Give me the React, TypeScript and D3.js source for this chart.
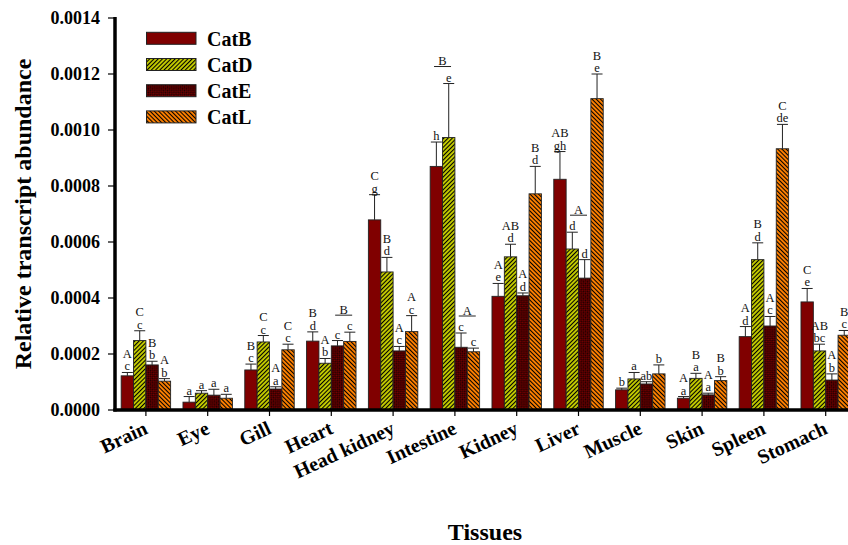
import React from 'react';
import * as d3 from 'd3';

const tissues = ['Brain', 'Eye', 'Gill', 'Heart', 'Head kidney', 'Intestine', 'Kidney', 'Liver', 'Muscle', 'Skin', 'Spleen', 'Stomach'];
const seriesNames = ['CatB', 'CatD', 'CatE', 'CatL'];

const catB = [0.000122, 0.000028, 0.000143, 0.000246, 0.000679, 0.00087, 0.000406, 0.000824, 0.000072, 0.000042, 0.000262, 0.000386];
const catBErr = [0.000012, 0.00002, 0.000021, 0.000033, 0.00009, 0.000087, 0.000046, 0.000099, 0.000006, 0.000006, 0.000036, 0.000048];
const catD = [0.000248, 0.00006, 0.000243, 0.000167, 0.000493, 0.000973, 0.000547, 0.000575, 0.000111, 0.000113, 0.000537, 0.000211];
const catDErr = [0.000035, 0.000009, 0.000023, 0.000017, 0.000052, 0.000193, 0.000045, 0.00006, 0.000023, 0.000018, 0.00006, 0.000024];
const catE = [0.000161, 0.000053, 0.000075, 0.000229, 0.000211, 0.000224, 0.000408, 0.000471, 0.000093, 0.000054, 0.0003, 0.000107];
const catEErr = [0.000013, 0.000021, 0.000008, 0.000019, 0.000016, 0.000051, 0.00001, 0.000066, 0.000008, 0.000006, 0.000034, 0.000022];
const catL = [0.000103, 0.000042, 0.000215, 0.000245, 0.00028, 0.000208, 0.000772, 0.001112, 0.000129, 0.000105, 0.000933, 0.000267];
const catLErr = [0.000009, 0.000014, 0.00002, 0.000033, 0.000057, 0.000013, 0.000098, 0.000088, 0.000032, 0.000014, 0.000087, 0.000017];

const upperB = ['A', '', 'B', 'B', 'C', '', 'A', 'AB', '', 'A', 'A', 'C'];
const lowerB = ['c', 'a', 'c', 'd', 'g', 'h', 'e', 'gh', 'b', 'a', 'd', 'e'];
const upperD = ['C', '', 'C', 'A', 'B', '', 'AB', '', '', 'B', 'B', 'AB'];
const lowerD = ['c', 'a', 'c', 'b', 'd', 'e', 'd', 'd', 'a', 'a', 'd', 'bc'];
const upperE = ['B', '', 'A', '', 'A', '', 'A', '', '', 'A', 'A', 'A'];
const lowerE = ['b', 'a', 'a', 'c', 'c', 'c', 'd', 'd', 'ab', 'a', 'c', 'b'];
const upperL = ['A', '', 'C', '', 'A', '', 'B', 'B', '', 'B', 'C', 'B'];
const lowerL = ['b', 'a', 'c', 'c', 'c', 'c', 'd', 'e', 'b', 'b', 'de', 'c'];

const sharedTissue = ['Heart', 'Intestine', 'Intestine', 'Liver'];
const sharedFrom = [2, 0, 2, 1];
const sharedTo = [3, 1, 3, 2];
const sharedLabel = ['B', 'B', 'A', 'A'];

const yTicks = [0, 0.0002, 0.0004, 0.0006, 0.0008, 0.001, 0.0012, 0.0014];

const values = [catB, catD, catE, catL];
const errors = [catBErr, catDErr, catEErr, catLErr];
const uppers = [upperB, upperD, upperE, upperL];
const lowers = [lowerB, lowerD, lowerE, lowerL];
const fills = ['#800000', 'url(#patD)', 'url(#patE)', 'url(#patL)'];

const FONT = '"Liberation Serif", "Times New Roman", serif';

export default function App() {
  const W = 848, H = 545;
  const x0 = 115, y0 = 410, yTop = 18;
  const step = 61.8;
  const x = d3.scaleBand().domain(tissues).range([x0, x0 + step * tissues.length]).paddingInner(0.2).paddingOuter(0.1);
  const xs = d3.scaleBand().domain(seriesNames).range([0, x.bandwidth()]);
  const y = d3.scaleLinear().domain([0, 0.0014]).range([y0, yTop]);
  const fmt = d3.format('.4f');
  const bw = xs.bandwidth();

  const bars: any[] = [];
  const errs: any[] = [];
  const labels: any[] = [];
  tissues.forEach((t, ti) => {
    seriesNames.forEach((s, si) => {
      const v = values[si][ti];
      const e = errors[si][ti];
      const bx = (x(t) as number) + (xs(s) as number);
      const cx = bx + bw / 2;
      const ty = y(v + e);
      bars.push(<rect key={`b${ti}-${si}`} x={bx} y={y(v)} width={bw} height={y0 - y(v)} fill={fills[si]} stroke="#222" strokeWidth={0.9} />);
      errs.push(
        <g key={`e${ti}-${si}`} stroke="#222" strokeWidth={1}>
          <line x1={cx} x2={cx} y1={y(v)} y2={ty} />
          <line x1={cx - 5.5} x2={cx + 5.5} y1={ty} y2={ty} />
        </g>
      );
      const lb = ty - 2;
      labels.push(<text key={`l${ti}-${si}`} x={cx} y={lb} textAnchor="middle" fontSize={12.5}>{lowers[si][ti]}</text>);
      if (uppers[si][ti]) {
        labels.push(<text key={`u${ti}-${si}`} x={cx} y={lb - 12.5} textAnchor="middle" fontSize={12.5}>{uppers[si][ti]}</text>);
      }
    });
  });

  sharedTissue.forEach((t, k) => {
    const ti = tissues.indexOf(t);
    const a = sharedFrom[k], b = sharedTo[k];
    const ca = (x(t) as number) + (xs(seriesNames[a]) as number) + bw / 2;
    const cb = (x(t) as number) + (xs(seriesNames[b]) as number) + bw / 2;
    const mid = (ca + cb) / 2;
    const topY = Math.min(y(values[a][ti] + errors[a][ti]), y(values[b][ti] + errors[b][ti]));
    const lineY = topY - 17;
    labels.push(
      <g key={`s${k}`}>
        <text x={mid} y={lineY - 1.5} textAnchor="middle" fontSize={12.5}>{sharedLabel[k]}</text>
        <line x1={mid - 8.5} x2={mid + 8.5} y1={lineY} y2={lineY} stroke="#222" strokeWidth={1} />
      </g>
    );
  });

  const legendTop = [32.3, 58.5, 84.7, 110.9];

  return (
    <svg width={W} height={H} style={{ position: 'absolute', left: 0, top: 0, background: '#fff' }} fontFamily={FONT}>
      <defs>
        <pattern id="patD" width={3} height={3} patternUnits="userSpaceOnUse" patternTransform="rotate(45)">
          <rect width={3} height={3} fill="#c4cc00" />
          <line x1={0.5} x2={0.5} y1={0} y2={3} stroke="#000" strokeWidth={1.1} />
        </pattern>
        <pattern id="patL" width={3} height={3} patternUnits="userSpaceOnUse" patternTransform="rotate(-45)">
          <rect width={3} height={3} fill="#ff8000" />
          <line x1={0.5} x2={0.5} y1={0} y2={3} stroke="#000" strokeWidth={1.1} />
        </pattern>
        <pattern id="patE" width={3} height={3} patternUnits="userSpaceOnUse" patternTransform="rotate(45)">
          <rect width={3} height={3} fill="#7a0000" />
          <rect width={1.5} height={1.5} fill="#1a0000" />
          <rect x={1.5} y={1.5} width={1.5} height={1.5} fill="#1a0000" />
        </pattern>
      </defs>

      {bars}
      {errs}
      <g fill="#111">{labels}</g>

      {/* Y axis */}
      <line x1={x0} x2={x0} y1={yTop - 1} y2={y0 + 1.5} stroke="#000" strokeWidth={3.5} />
      {yTicks.map((t) => (
        <g key={`yt${t}`}>
          <line x1={x0 - 7} x2={x0} y1={y(t)} y2={y(t)} stroke="#000" strokeWidth={1.2} />
          <text x={100} y={y(t)} dy="0.35em" textAnchor="end" fontSize={18} fontWeight="bold">{fmt(t)}</text>
        </g>
      ))}
      {/* X axis */}
      <line x1={x0 - 1.7} x2={W} y1={y0} y2={y0} stroke="#000" strokeWidth={3.5} />
      {tissues.map((t) => {
        const cx = (x(t) as number) + x.bandwidth() / 2;
        return (
          <g key={`xt${t}`}>
            <line x1={cx} x2={cx} y1={y0} y2={y0 + 6} stroke="#000" strokeWidth={1.2} />
            <text transform={`translate(${cx + 3},${y0 + 23}) rotate(-25)`} textAnchor="end" fontSize={20} fontWeight="bold">{t}</text>
          </g>
        );
      })}

      {/* Axis titles */}
      <text transform={`translate(30.5,${(y0 + yTop) / 2}) rotate(-90)`} textAnchor="middle" fontSize={24} fontWeight="bold">Relative transcript abundance</text>
      <text x={485} y={540} textAnchor="middle" fontSize={24} fontWeight="bold">Tissues</text>

      {/* Legend */}
      {seriesNames.map((s, i) => (
        <g key={`lg${s}`}>
          <rect x={146.5} y={legendTop[i]} width={49.5} height={12} fill={fills[i]} stroke="#222" strokeWidth={1} />
          <text x={207} y={legendTop[i] + 13.4} fontSize={20} fontWeight="bold">{s}</text>
        </g>
      ))}
    </svg>
  );
}
